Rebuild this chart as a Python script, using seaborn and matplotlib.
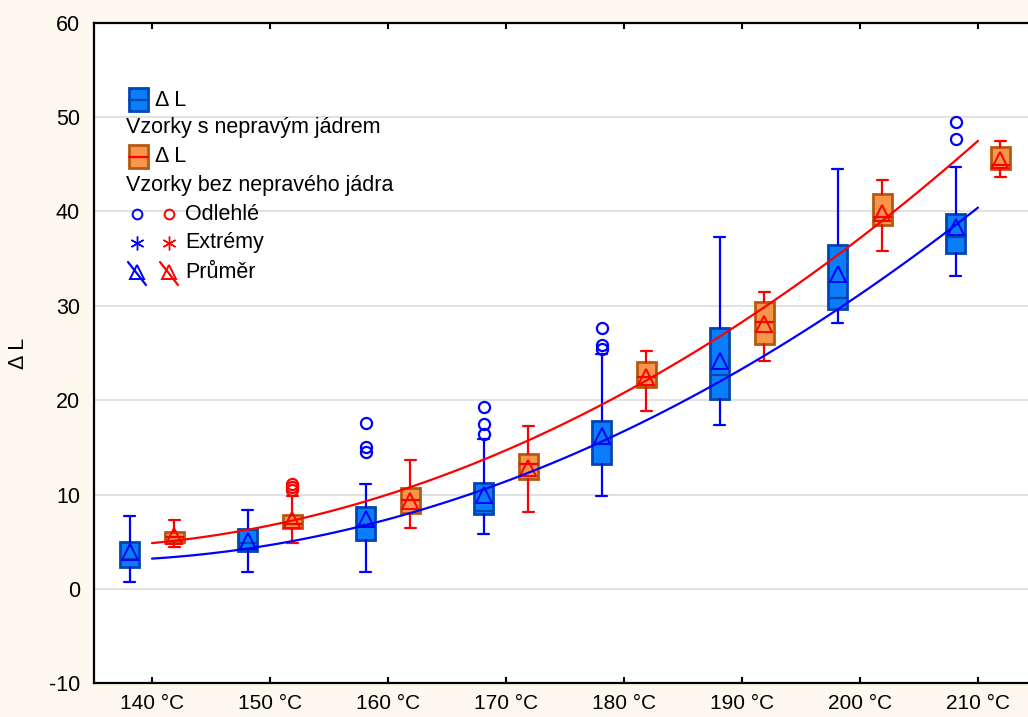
import numpy as np
import matplotlib
matplotlib.use("Agg")
import matplotlib.pyplot as plt
from matplotlib.patches import Rectangle
from matplotlib.lines import Line2D
import seaborn as sns

# ---------------- data ----------------
categories = ['140 °C', '150 °C', '160 °C', '170 °C', '180 °C', '190 °C', '200 °C', '210 °C']

# Vzorky s nepravým jádrem (blue)
blue_whislo = [0.7, 1.8, 1.8, 5.8, 9.8, 17.4, 28.2, 33.2]
blue_q1     = [2.3, 4.0, 5.2, 7.9, 13.2, 20.1, 29.7, 35.6]
blue_med    = [3.2, 4.9, 6.8, 8.3, 15.4, 22.7, 30.8, 37.3]
blue_q3     = [5.0, 6.3, 8.7, 11.2, 17.8, 27.7, 36.4, 39.7]
blue_whishi = [7.7, 8.4, 11.1, 15.9, 24.9, 37.3, 44.5, 44.7]
blue_mean   = [3.9, 5.1, 7.4, 10.0, 16.2, 24.2, 33.4, 38.3]
blue_outliers = [[], [], [17.6, 15.0, 14.5], [19.3, 17.5, 16.4],
                 [27.6, 25.9, 25.4], [], [], [49.5, 47.7]]

# Vzorky bez nepravého jádra (orange)
or_whislo = [4.4, 4.9, 6.5, 8.1, 18.9, 24.1, 35.8, 43.7]
or_q1     = [5.0, 6.5, 8.0, 11.7, 21.4, 26.0, 38.6, 44.5]
or_med    = [5.5, 6.9, 9.4, 13.2, 22.5, 28.3, 39.4, 44.9]
or_q3     = [6.0, 7.8, 10.7, 14.3, 24.0, 30.4, 41.8, 46.8]
or_whishi = [7.3, 9.8, 13.7, 17.3, 25.2, 31.5, 43.3, 47.5]
or_mean   = [5.6, 7.3, 9.3, 12.8, 22.5, 28.1, 39.8, 45.5]
or_outliers = [[], [11.1, 10.8, 10.5], [], [], [], [], [], []]

# fitted curves read at each category tick
blue_fit = [3.5, 4.5, 6.9, 11.4, 17.0, 23.5, 31.3, 40.2]
red_fit  = [5.1, 6.6, 9.7, 14.5, 21.1, 28.5, 37.2, 47.3]

# ---------------- style ----------------
sns.set_style("white")
plt.rcParams['font.family'] = ['Liberation Sans', 'DejaVu Sans']
plt.rcParams['font.size'] = 15.5
plt.rcParams['axes.unicode_minus'] = False
plt.rcParams['text.color'] = 'black'
plt.rcParams['axes.labelcolor'] = 'black'
plt.rcParams['xtick.color'] = 'black'
plt.rcParams['ytick.color'] = 'black'

FS = 15.5
BG = '#FEF9EE'
BLUE_FACE = '#0A7DFA'
BLUE_EDGE = '#0046B4'
BLUE = '#0000FF'
OR_FACE = '#F7964A'
OR_EDGE = '#B45A0F'
RED = '#FF0000'

W, H = 1028, 717
fig = plt.figure(figsize=(W / 100, H / 100), dpi=100, facecolor=BG)
ax = fig.add_axes([94 / W, 1 - 683.3 / H, (W - 94) / W, 660.6 / H])
ax.set_facecolor('white')

x = np.arange(len(categories))
off = 0.19
bw = 0.165


def make_stats(lo, q1, med, q3, hi, mean, outl):
    return [dict(whislo=lo[i], q1=q1[i], med=med[i], q3=q3[i], whishi=hi[i],
                 mean=mean[i], fliers=np.array(outl[i])) for i in range(len(lo))]


def draw(stats, pos, face, edge, line, medc):
    ax.bxp(stats, positions=pos, widths=bw, patch_artist=True, showmeans=True,
           capwidths=0.09, manage_ticks=False,
           boxprops=dict(facecolor=face, edgecolor=edge, linewidth=2.0),
           medianprops=dict(color=medc, linewidth=1.6),
           whiskerprops=dict(color=line, linewidth=1.6),
           capprops=dict(color=line, linewidth=1.6),
           flierprops=dict(marker='o', markerfacecolor='none', markeredgecolor=line,
                           markersize=8, markeredgewidth=1.6),
           meanprops=dict(marker='^', markerfacecolor='none', markeredgecolor=line,
                          markersize=11, markeredgewidth=1.4))


draw(make_stats(blue_whislo, blue_q1, blue_med, blue_q3, blue_whishi, blue_mean, blue_outliers),
     x - off, BLUE_FACE, BLUE_EDGE, BLUE, BLUE_EDGE)
draw(make_stats(or_whislo, or_q1, or_med, or_q3, or_whishi, or_mean, or_outliers),
     x + off, OR_FACE, OR_EDGE, RED, RED)

sns.regplot(x=x.astype(float), y=np.array(blue_fit), order=2, scatter=False, ci=None,
            ax=ax, line_kws=dict(color=BLUE, linewidth=1.6, zorder=6))
sns.regplot(x=x.astype(float), y=np.array(red_fit), order=2, scatter=False, ci=None,
            ax=ax, line_kws=dict(color=RED, linewidth=1.6, zorder=6))

ax.set_xlim(-0.4915, 7.424)
ax.set_ylim(-10, 60)
ax.set_xticks(x)
ax.set_xticklabels(categories)
ax.set_yticks(np.arange(-10, 61, 10))
ax.yaxis.grid(True, color='#DCDCDC', linewidth=1.2)
ax.xaxis.grid(False)
ax.set_axisbelow(True)
ax.tick_params(axis='x', direction='in', top=True, bottom=True, length=4, width=1.5,
               pad=8, labelsize=15, colors='black')
ax.tick_params(axis='y', length=0, pad=10, labelsize=FS, colors='black')
for s in ['left', 'bottom', 'top']:
    ax.spines[s].set_color('black')
    ax.spines[s].set_linewidth(1.6)
ax.spines['right'].set_visible(False)
ax.set_xlabel('')
ax.set_ylabel('Δ L', fontsize=FS, labelpad=14, color='black')

# ---------------- legend (drawn manually) ----------------
def fx(px):
    return px / W


def fy(py):
    return 1 - py / H


def legend_box(y0, face, edge, medc):
    fig.patches.append(Rectangle((fx(129), fy(y0 + 23)), fx(19), 23 / H, facecolor=face,
                                 edgecolor=edge, linewidth=2.0, transform=fig.transFigure,
                                 zorder=10))
    fig.lines.append(Line2D([fx(129), fx(148)], [fy(y0 + 11.5)] * 2, color=medc, lw=1.6,
                            transform=fig.transFigure, zorder=11))


legend_box(88, BLUE_FACE, BLUE_EDGE, BLUE_EDGE)
fig.text(fx(155), fy(100), 'Δ L', va='center', ha='left', fontsize=FS)
fig.text(fx(126), fy(128), 'Vzorky s nepravým jádrem', va='center', ha='left', fontsize=FS)
legend_box(145, OR_FACE, OR_EDGE, RED)
fig.text(fx(155), fy(157), 'Δ L', va='center', ha='left', fontsize=FS)
fig.text(fx(126), fy(186), 'Vzorky bez nepravého jádra', va='center', ha='left', fontsize=FS)

for cx, c in [(137, BLUE), (169, RED)]:
    fig.lines.append(Line2D([fx(cx)], [fy(214)], marker='o', markersize=7, markerfacecolor='none',
                            markeredgecolor=c, markeredgewidth=1.4, transform=fig.transFigure))
    fig.lines.append(Line2D([fx(cx)], [fy(243)], marker=(6, 2, 0), markersize=10,
                            markeredgecolor=c, markeredgewidth=1.0, transform=fig.transFigure))
    fig.lines.append(Line2D([fx(cx - 9), fx(cx + 9)], [fy(262), fy(285)], color=c, lw=1.6,
                            transform=fig.transFigure))
    fig.lines.append(Line2D([fx(cx)], [fy(272)], marker='^', markersize=10, markerfacecolor='none',
                            markeredgecolor=c, markeredgewidth=1.4, transform=fig.transFigure))
fig.text(fx(185), fy(214), 'Odlehlé', va='center', ha='left', fontsize=FS)
fig.text(fx(185), fy(243), 'Extrémy', va='center', ha='left', fontsize=FS)
fig.text(fx(185), fy(272), 'Průměr', va='center', ha='left', fontsize=FS)

fig.savefig('out.png', dpi=100, facecolor=BG)
